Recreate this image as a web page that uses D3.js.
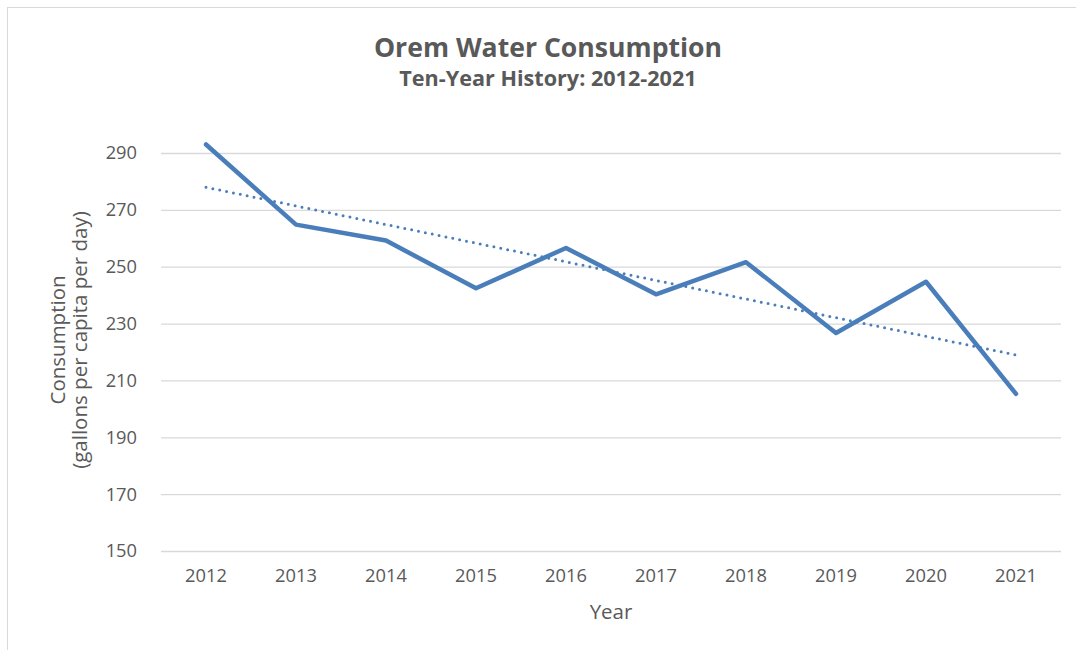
<!DOCTYPE html>
<html>
<head>
<meta charset="utf-8">
<script src="https://cdn.jsdelivr.net/npm/d3@7"></script>
<style>
  html, body { margin: 0; padding: 0; background: #fff; }
  svg { display: block; }
  text { font-family: "Open Sans", "Noto Sans", sans-serif; fill: #595959; }
</style>
</head>
<body>
<svg id="chart" width="1076" height="650"></svg>
<script>
const years = ["2012","2013","2014","2015","2016","2017","2018","2019","2020","2021"];
const consumption = [293.0, 264.8, 259.2, 242.4, 256.6, 240.3, 251.6, 226.7, 244.7, 205.3];
const yTicks = [150, 170, 190, 210, 230, 250, 270, 290];
const titleText = "Orem Water Consumption";
const subtitleText = "Ten-Year History: 2012-2021";
const yTitleLines = ["Consumption", "(gallons per capita per day)"];
const xTitleText = "Year";

const svg = d3.select("#chart");
const W = 1076, H = 650;
const plot = { left: 161, right: 1061, top: 153, bottom: 551 };
const lineColor = "#4a7ebb";

// chart border
svg.append("rect").attr("x", 7.5).attr("y", 7.5).attr("width", W + 20).attr("height", H + 20)
  .attr("fill", "#fff").attr("stroke", "#d9d9d9").attr("stroke-width", 1);

const x = d3.scaleBand().domain(years).range([plot.left, plot.right]).padding(0);
const y = d3.scaleLinear().domain([150, 290]).range([plot.bottom, plot.top]);

// gridlines + y axis
const yAxis = d3.axisLeft(y).tickValues(yTicks).tickSize(-(plot.right - plot.left)).tickPadding(24).tickFormat(d3.format("d"));
const gy = svg.append("g").attr("transform", `translate(${plot.left},0)`).call(yAxis);
gy.select(".domain").remove();
gy.selectAll(".tick line").attr("stroke", "#d9d9d9").attr("stroke-width", 1.3);
gy.selectAll(".tick text").attr("font-size", 18.3).attr("fill", "#595959")
  .attr("font-family", "'Open Sans', sans-serif");

const xAxis = d3.axisBottom(x).tickSize(0).tickPadding(18);
const gx = svg.append("g").attr("transform", `translate(0,${plot.bottom})`).call(xAxis);
gx.select(".domain").remove();
gx.selectAll(".tick text").attr("font-size", 18.3).attr("fill", "#595959")
  .attr("font-family", "'Open Sans', sans-serif");

// data line
const line = d3.line().x((d, i) => x(years[i]) + x.bandwidth() / 2).y(d => y(d));
svg.append("path").datum(consumption).attr("d", line)
  .attr("fill", "none").attr("stroke", lineColor).attr("stroke-width", 4.5)
  .attr("stroke-linejoin", "round").attr("stroke-linecap", "round");

// linear trendline (least squares on the data)
const n = consumption.length;
const xs = d3.range(n);
const mx = d3.mean(xs), my = d3.mean(consumption);
const slope = d3.sum(xs, i => (i - mx) * (consumption[i] - my)) / d3.sum(xs, i => (i - mx) ** 2);
const icpt = my - slope * mx;
const trend = [icpt, icpt + slope * (n - 1)];
svg.append("path")
  .attr("d", d3.line()([[x(years[0]) + x.bandwidth() / 2, y(trend[0])], [x(years[n - 1]) + x.bandwidth() / 2, y(trend[1])]]))
  .attr("fill", "none").attr("stroke", lineColor).attr("stroke-width", 3)
  .attr("stroke-dasharray", "0,7").attr("stroke-linecap", "round");

// titles
const cx = 548;
svg.append("text").attr("x", cx).attr("y", 57).attr("text-anchor", "middle")
  .attr("font-size", 26.6).attr("font-weight", "bold").text(titleText);
svg.append("text").attr("x", cx).attr("y", 86).attr("text-anchor", "middle")
  .attr("font-size", 21.6).attr("font-weight", "bold").text(subtitleText);

// y axis title
const yt = svg.append("text").attr("transform", `translate(65,340) rotate(-90)`)
  .attr("text-anchor", "middle").attr("font-size", 20.5);
yt.append("tspan").attr("x", 0).attr("dy", 0).text(yTitleLines[0]);
yt.append("tspan").attr("x", 0).attr("dy", 22).text(yTitleLines[1]);

// x axis title
svg.append("text").attr("x", (plot.left + plot.right) / 2).attr("y", 619).attr("text-anchor", "middle")
  .attr("font-size", 20.5).text(xTitleText);
</script>
</body>
</html>
